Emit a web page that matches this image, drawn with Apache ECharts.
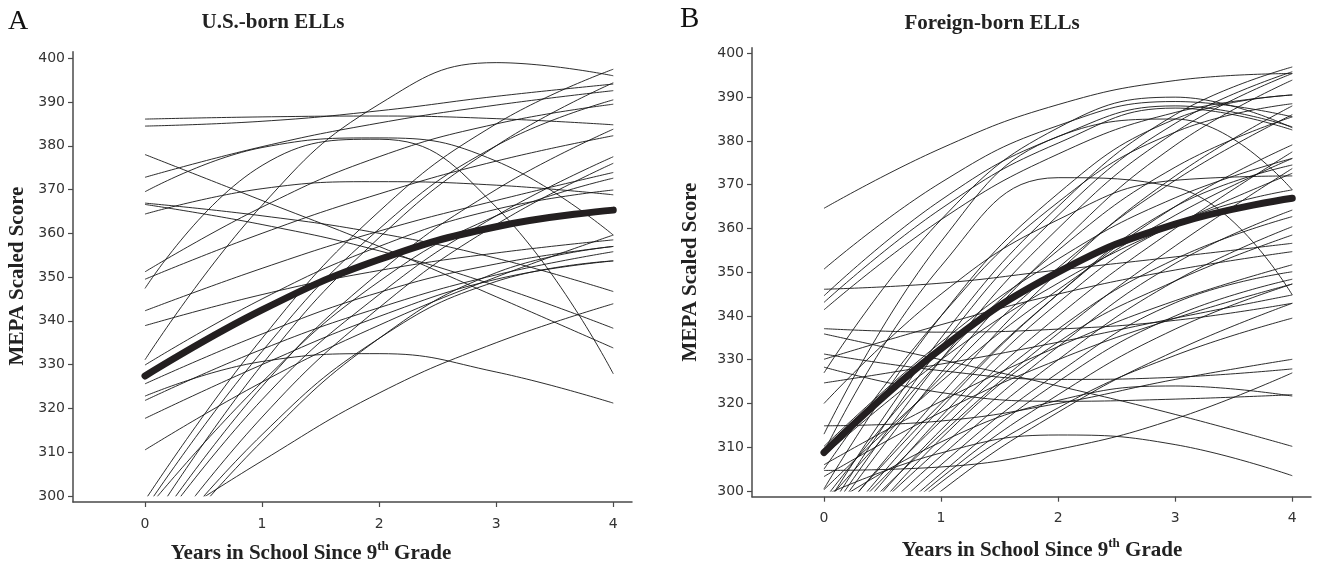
<!DOCTYPE html>
<html><head><meta charset="utf-8">
<script src="https://cdn.jsdelivr.net/npm/echarts@6/dist/echarts.min.js"></script>
<style>html,body{margin:0;padding:0;background:#fff}#c{width:1332px;height:563px}</style>
</head><body><div id="c"></div>
<script>
// ---- data ----
const years = [0, 1, 2, 3, 4];
const xTicks = [0, 1, 2, 3, 4];
const yTicks = [300, 310, 320, 330, 340, 350, 360, 370, 380, 390, 400];

const usBornMean = [327.4, 342.5, 354.0, 361.5, 365.3];
const usBornCurves = [
  [386.1, 386.6, 386.8, 386.2, 384.8],
  [384.5, 385.6, 388.0, 391.3, 394.1],
  [378.0, 367.5, 357.0, 345.5, 333.8],
  [372.8, 379.8, 385.2, 389.3, 392.6],
  [369.5, 379.6, 381.8, 376.5, 359.6],
  [366.9, 364.0, 360.0, 354.3, 346.7],
  [366.6, 362.0, 356.0, 348.0, 338.3],
  [364.4, 370.2, 371.8, 371.0, 368.8],
  [351.2, 366.0, 377.5, 385.0, 389.5],
  [349.5, 360.0, 369.0, 376.5, 382.3],
  [347.4, 375.5, 381.5, 366.0, 327.9],
  [342.3, 352.0, 360.5, 367.5, 373.9],
  [338.9, 346.0, 351.5, 355.5, 358.5],
  [331.1, 366.4, 389.5, 399.0, 396.0],
  [329.9, 345.0, 357.0, 365.5, 369.9],
  [325.6, 337.0, 346.5, 353.0, 357.0],
  [322.8, 330.7, 332.5, 328.3, 321.2],
  [321.8, 333.5, 343.0, 350.5, 355.8],
  [317.7, 330.0, 341.0, 349.5, 353.7],
  [310.5, 326.0, 339.0, 350.0, 359.6],
  [299.0, 336.0, 365.0, 385.0, 397.5],
  [297.0, 333.0, 361.0, 380.0, 390.5],
  [296.5, 326.0, 349.0, 364.0, 372.6],
  [292.0, 330.0, 359.0, 380.0, 394.4],
  [290.0, 325.0, 351.0, 370.0, 383.8],
  [289.0, 322.0, 346.0, 364.0, 377.5],
  [285.0, 318.0, 343.0, 362.0, 376.0],
  [284.0, 314.0, 336.0, 349.0, 353.7],
  [282.5, 312.5, 336.0, 351.0, 357.0],
  [291.0, 308.0, 323.5, 335.0, 343.9]
];

const foreignBornMean = [308.8, 332.5, 350.0, 361.0, 366.9];
const foreignBornCurves = [
  [364.6, 378.3, 388.3, 393.8, 395.4],
  [350.7, 370.5, 383.5, 389.0, 385.5],
  [344.6, 366.5, 381.0, 388.0, 383.2],
  [343.1, 364.5, 379.5, 387.5, 382.5],
  [341.4, 362.0, 377.0, 386.5, 390.5],
  [346.1, 347.5, 350.5, 353.5, 356.6],
  [337.1, 336.3, 337.0, 339.0, 342.9],
  [335.9, 330.0, 324.0, 317.5, 310.2],
  [331.3, 327.5, 325.5, 326.0, 327.9],
  [330.1, 338.0, 345.0, 350.5, 354.7],
  [328.3, 322.5, 320.5, 321.0, 322.0],
  [324.7, 329.0, 334.0, 339.5, 344.8],
  [314.9, 316.0, 320.0, 325.5, 330.1],
  [310.2, 334.0, 353.0, 367.0, 376.0],
  [308.1, 330.0, 347.5, 361.0, 372.6],
  [306.0, 320.5, 333.0, 343.5, 351.7],
  [304.7, 305.5, 309.5, 316.5, 327.0],
  [303.3, 318.0, 330.0, 339.5, 347.3],
  [300.3, 325.0, 346.0, 363.0, 376.0],
  [298.0, 330.0, 355.0, 374.0, 385.5],
  [297.0, 326.0, 351.0, 371.0, 386.0],
  [296.0, 335.0, 365.0, 386.0, 396.9],
  [294.0, 333.0, 363.0, 384.0, 395.8],
  [293.0, 330.0, 360.0, 382.0, 395.4],
  [292.0, 327.0, 356.0, 379.0, 393.9],
  [291.0, 320.0, 345.0, 365.0, 379.1],
  [290.0, 322.0, 350.0, 372.0, 388.0],
  [289.0, 316.0, 340.0, 360.0, 377.5],
  [288.0, 319.0, 345.0, 365.0, 374.5],
  [287.0, 313.0, 336.0, 356.0, 373.7],
  [286.0, 317.0, 343.0, 361.0, 368.8],
  [285.0, 310.0, 333.0, 352.0, 364.2],
  [284.0, 314.0, 337.0, 353.0, 362.7],
  [283.0, 308.0, 330.0, 348.0, 360.4],
  [282.0, 312.0, 334.0, 348.0, 358.5],
  [281.0, 306.0, 327.0, 343.0, 350.1],
  [280.0, 304.0, 325.0, 340.0, 348.4],
  [279.0, 303.0, 322.0, 337.0, 347.3],
  [278.0, 302.0, 319.0, 331.0, 339.5],
  [299.0, 308.7, 312.8, 310.6, 303.5],
  [296.0, 311.2, 320.7, 324.0, 321.7],
  [277.0, 300.0, 318.0, 332.0, 342.9],
  [308.9, 351.4, 371.6, 369.4, 344.8],
  [313.0, 357.0, 381.0, 385.0, 368.8],
  [327.0, 362.0, 383.0, 390.0, 383.0],
  [305.0, 340.0, 366.0, 382.0, 388.5],
  [300.5, 340.0, 368.0, 385.0, 390.5],
  [320.0, 345.0, 362.0, 371.0, 372.0]
];

// ---- layout ----
const panels = [
  { left: 73, top: 51.7, width: 559, height: 450.3, yMin: 298.6, yMax: 401.5, curves: usBornCurves, mean: usBornMean },
  { left: 752, top: 47.7, width: 559, height: 449, yMin: 298.7, yMax: 401.3, curves: foreignBornCurves, mean: foreignBornMean }
];
const X_MIN = -0.615, X_MAX = 4.16, CLIP_Y = 300;
const axisColor = '#4a4a4a';
const labelFont = { fontFamily: 'DejaVu Sans', fontSize: 14, color: '#333' };

const grid = [], xAxis = [], yAxis = [], series = [];
panels.forEach((p, i) => {
  grid.push({ left: p.left, top: p.top, width: p.width, height: p.height, containLabel: false, outerBoundsMode: 'none' });
  const dataH = p.height * (p.yMax - CLIP_Y) / (p.yMax - p.yMin);
  grid.push({ left: p.left, top: p.top, width: p.width, height: dataH, containLabel: false, outerBoundsMode: 'none' });
  xAxis.push({
    type: 'value', gridIndex: 2 * i, min: X_MIN, max: X_MAX,
    axisLine: { show: true, onZero: false, lineStyle: { color: axisColor, width: 1.5 } },
    axisTick: { show: true, length: 5, customValues: xTicks, lineStyle: { color: axisColor, width: 1.2 } },
    axisLabel: Object.assign({ customValues: xTicks, margin: 15 }, labelFont),
    splitLine: { show: false }
  });
  xAxis.push({ type: 'value', gridIndex: 2 * i + 1, min: X_MIN, max: X_MAX, show: false });
  yAxis.push({
    type: 'value', gridIndex: 2 * i, min: p.yMin, max: p.yMax,
    axisLine: { show: true, onZero: false, lineStyle: { color: axisColor, width: 1.5 } },
    axisTick: { show: true, length: 5, customValues: yTicks, lineStyle: { color: axisColor, width: 1.2 } },
    axisLabel: Object.assign({ customValues: yTicks, margin: 8 }, labelFont),
    splitLine: { show: false }
  });
  yAxis.push({ type: 'value', gridIndex: 2 * i + 1, min: CLIP_Y, max: p.yMax, show: false });
  p.curves.forEach(c => {
    series.push({
      type: 'line', xAxisIndex: 2 * i + 1, yAxisIndex: 2 * i + 1,
      data: years.map((x, k) => [x, c[k]]), smooth: 0.45, symbol: 'none', clip: true,
      lineStyle: { color: '#151515', width: 0.9 }, silent: true, z: 2
    });
  });
  series.push({
    type: 'line', xAxisIndex: 2 * i + 1, yAxisIndex: 2 * i + 1,
    data: years.map((x, k) => [x, p.mean[k]]), smooth: 0.45, symbol: 'none', clip: true,
    lineStyle: { color: '#231f20', width: 7, cap: 'round' }, silent: true, z: 5
  });
});

const serif = '"Liberation Serif", "Times New Roman", serif';
const xNameStyle = {
  text: '{b|Years in School Since 9}{sup|th}{b| Grade}', textAlign: 'center', textVerticalAlign: 'middle',
  rich: {
    b: { fontFamily: serif, fontWeight: 'bold', fontSize: 21, fill: '#222', verticalAlign: 'bottom', lineHeight: 24 },
    sup: { fontFamily: serif, fontWeight: 'bold', fontSize: 13, fill: '#222', verticalAlign: 'top', lineHeight: 13 }
  }
};
const graphic = [
  { type: 'text', x: 8, y: 22, style: { text: 'A', fontFamily: serif, fontSize: 28, fill: '#111', textAlign: 'left', textVerticalAlign: 'middle' } },
  { type: 'text', x: 680, y: 19, style: { text: 'B', fontFamily: serif, fontSize: 29, fill: '#111', textAlign: 'left', textVerticalAlign: 'middle' } },
  { type: 'text', x: 273, y: 23, style: { text: 'U.S.-born ELLs', fontFamily: serif, fontWeight: 'bold', fontSize: 21, fill: '#222', textAlign: 'center', textVerticalAlign: 'middle' } },
  { type: 'text', x: 992, y: 24, style: { text: 'Foreign-born ELLs', fontFamily: serif, fontWeight: 'bold', fontSize: 21, fill: '#222', textAlign: 'center', textVerticalAlign: 'middle' } },
  { type: 'text', x: 18, y: 276, rotation: Math.PI / 2, style: { text: 'MEPA Scaled Score', fontFamily: serif, fontWeight: 'bold', fontSize: 21, fill: '#222', textAlign: 'center', textVerticalAlign: 'middle' } },
  { type: 'text', x: 691, y: 272, rotation: Math.PI / 2, style: { text: 'MEPA Scaled Score', fontFamily: serif, fontWeight: 'bold', fontSize: 21, fill: '#222', textAlign: 'center', textVerticalAlign: 'middle' } },
  { type: 'text', x: 311, y: 552, style: xNameStyle },
  { type: 'text', x: 1042, y: 549, style: xNameStyle }
];

const chart = echarts.init(document.getElementById('c'), null, { renderer: 'canvas', width: 1332, height: 563 });
chart.setOption({ animation: false, backgroundColor: '#fff', grid, xAxis, yAxis, series, graphic });
</script></body></html>
